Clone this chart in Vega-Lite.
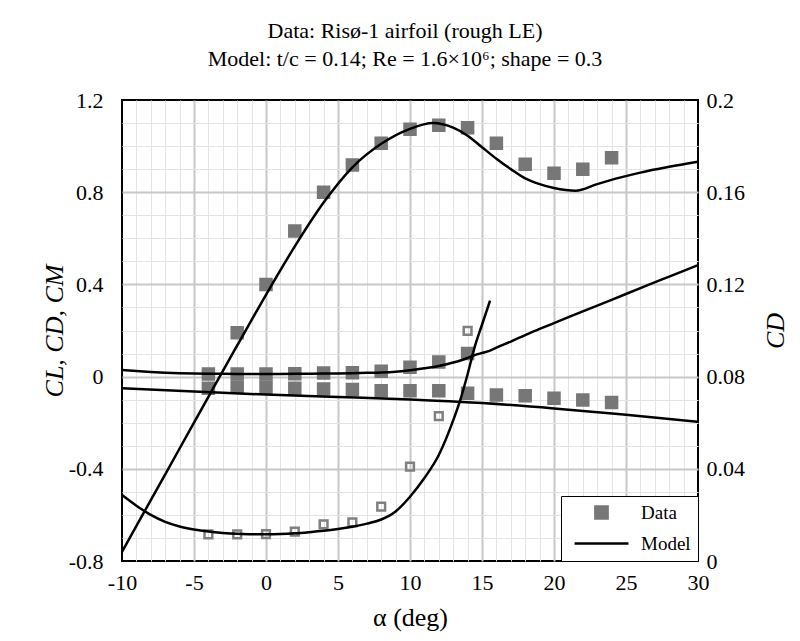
{
  "$schema": "https://vega.github.io/schema/vega-lite/v6.json",
  "autosize": {"type": "none"},
  "width": 576,
  "height": 461,
  "padding": {"left": 122, "top": 100, "right": 102, "bottom": 80},
  "background": "white",
  "title": {
    "text": "Data: Risø-1 airfoil (rough LE)",
    "subtitle": "Model: t/c = 0.14; Re = 1.6×10⁶; shape = 0.3",
    "font": "Liberation Serif", "fontSize": 22, "fontWeight": "normal", "color": "black",
    "subtitleFont": "Liberation Serif", "subtitleFontSize": 22, "subtitleColor": "black", "subtitlePadding": 6,
    "offset": 18, "anchor": "middle", "frame": "group", "dx": -5
  },
  "datasets": {
    "model": [
      {"a": -10, "c": "CL", "v": -0.76}, {"a": -8, "c": "CL", "v": -0.536}, {"a": -6, "c": "CL", "v": -0.312},
      {"a": -4, "c": "CL", "v": -0.088}, {"a": -2, "c": "CL", "v": 0.135}, {"a": 0, "c": "CL", "v": 0.355},
      {"a": 2, "c": "CL", "v": 0.565}, {"a": 4, "c": "CL", "v": 0.755}, {"a": 6, "c": "CL", "v": 0.908},
      {"a": 8, "c": "CL", "v": 1.01}, {"a": 10, "c": "CL", "v": 1.075}, {"a": 11.6, "c": "CL", "v": 1.1},
      {"a": 13, "c": "CL", "v": 1.08}, {"a": 14, "c": "CL", "v": 1.045}, {"a": 15, "c": "CL", "v": 0.995},
      {"a": 16, "c": "CL", "v": 0.945}, {"a": 17, "c": "CL", "v": 0.9}, {"a": 18, "c": "CL", "v": 0.86},
      {"a": 19, "c": "CL", "v": 0.835}, {"a": 20, "c": "CL", "v": 0.818}, {"a": 21.5, "c": "CL", "v": 0.806},
      {"a": 23, "c": "CL", "v": 0.835}, {"a": 24.5, "c": "CL", "v": 0.862}, {"a": 26, "c": "CL", "v": 0.885},
      {"a": 28, "c": "CL", "v": 0.91}, {"a": 30, "c": "CL", "v": 0.932},
      {"a": -10, "c": "CD", "v": 0.0286}, {"a": -9, "c": "CD", "v": 0.024}, {"a": -8, "c": "CD", "v": 0.02},
      {"a": -7, "c": "CD", "v": 0.017}, {"a": -6, "c": "CD", "v": 0.015}, {"a": -5, "c": "CD", "v": 0.0137},
      {"a": -4, "c": "CD", "v": 0.0128}, {"a": -3, "c": "CD", "v": 0.0122}, {"a": -2, "c": "CD", "v": 0.0118},
      {"a": -1, "c": "CD", "v": 0.0116}, {"a": 0, "c": "CD", "v": 0.0116}, {"a": 1, "c": "CD", "v": 0.0117},
      {"a": 2, "c": "CD", "v": 0.012}, {"a": 3, "c": "CD", "v": 0.0125}, {"a": 4, "c": "CD", "v": 0.0131},
      {"a": 5, "c": "CD", "v": 0.0139}, {"a": 6, "c": "CD", "v": 0.0149}, {"a": 7, "c": "CD", "v": 0.0162},
      {"a": 8, "c": "CD", "v": 0.018}, {"a": 9, "c": "CD", "v": 0.0215}, {"a": 10, "c": "CD", "v": 0.0279},
      {"a": 11, "c": "CD", "v": 0.036}, {"a": 12, "c": "CD", "v": 0.046}, {"a": 13, "c": "CD", "v": 0.061},
      {"a": 13.5, "c": "CD", "v": 0.07}, {"a": 14, "c": "CD", "v": 0.081}, {"a": 14.5, "c": "CD", "v": 0.093},
      {"a": 15, "c": "CD", "v": 0.1025}, {"a": 15.56, "c": "CD", "v": 0.113}, {"a": 16, "c": "CD", "v": 0.126},
      {"a": 17, "c": "CD", "v": 0.152}, {"a": 18, "c": "CD", "v": 0.18}, {"a": 19, "c": "CD", "v": 0.207},
      {"a": 20, "c": "CD", "v": 0.232}, {"a": 22, "c": "CD", "v": 0.283}, {"a": 24, "c": "CD", "v": 0.333},
      {"a": 26, "c": "CD", "v": 0.384}, {"a": 28, "c": "CD", "v": 0.434}, {"a": 30, "c": "CD", "v": 0.484},
      {"a": -10, "c": "CM", "v": -0.051}, {"a": -5, "c": "CM", "v": -0.065}, {"a": 0, "c": "CM", "v": -0.078},
      {"a": 5, "c": "CM", "v": -0.088}, {"a": 10, "c": "CM", "v": -0.099}, {"a": 15, "c": "CM", "v": -0.115},
      {"a": 20, "c": "CM", "v": -0.138}, {"a": 25, "c": "CM", "v": -0.166}, {"a": 30, "c": "CM", "v": -0.196}
    ],
    "exp": [
      {"a": -2, "c": "CL", "v": 0.19}, {"a": 0, "c": "CL", "v": 0.4}, {"a": 2, "c": "CL", "v": 0.632},
      {"a": 4, "c": "CL", "v": 0.8}, {"a": 6, "c": "CL", "v": 0.918}, {"a": 8, "c": "CL", "v": 1.012},
      {"a": 10, "c": "CL", "v": 1.073}, {"a": 12, "c": "CL", "v": 1.09}, {"a": 14, "c": "CL", "v": 1.08},
      {"a": 16, "c": "CL", "v": 1.012}, {"a": 18, "c": "CL", "v": 0.921}, {"a": 20, "c": "CL", "v": 0.882},
      {"a": 22, "c": "CL", "v": 0.9}, {"a": 24, "c": "CL", "v": 0.95},
      {"a": -4, "c": "CD", "v": 0.0116}, {"a": -2, "c": "CD", "v": 0.0116}, {"a": 0, "c": "CD", "v": 0.0117},
      {"a": 2, "c": "CD", "v": 0.0127}, {"a": 4, "c": "CD", "v": 0.0159}, {"a": 6, "c": "CD", "v": 0.0168},
      {"a": 8, "c": "CD", "v": 0.0236}, {"a": 10, "c": "CD", "v": 0.0409}, {"a": 12, "c": "CD", "v": 0.0629},
      {"a": 14, "c": "CD", "v": 0.0998},
      {"a": -4, "c": "CM", "v": -0.051}, {"a": -2, "c": "CM", "v": -0.046}, {"a": 0, "c": "CM", "v": -0.046},
      {"a": 2, "c": "CM", "v": -0.05}, {"a": 4, "c": "CM", "v": -0.054}, {"a": 6, "c": "CM", "v": -0.056},
      {"a": 8, "c": "CM", "v": -0.061}, {"a": 10, "c": "CM", "v": -0.061}, {"a": 12, "c": "CM", "v": -0.061},
      {"a": 14, "c": "CM", "v": -0.072}, {"a": 16, "c": "CM", "v": -0.08}, {"a": 18, "c": "CM", "v": -0.083},
      {"a": 20, "c": "CM", "v": -0.094}, {"a": 22, "c": "CM", "v": -0.101}, {"a": 24, "c": "CM", "v": -0.112}
    ]
  },
  "encoding": {
    "x": {
      "field": "a", "type": "quantitative",
      "scale": {"domain": [-10, 30], "nice": false, "zero": false},
      "axis": {
        "values": [-10,-9,-8,-7,-6,-5,-4,-3,-2,-1,0,1,2,3,4,5,6,7,8,9,10,11,12,13,14,15,16,17,18,19,20,21,22,23,24,25,26,27,28,29,30],
        "grid": true,
        "gridColor": {"condition": {"test": "datum.value % 5 === 0", "value": "#c8c8c8"}, "value": "#e3e3e3"},
        "gridWidth": {"condition": {"test": "datum.value % 5 === 0", "value": 2}, "value": 1},
        "gridOpacity": {"condition": {"test": "datum.value === -10 || datum.value === 30", "value": 0}, "value": 1},
        "labelExpr": "datum.value % 5 === 0 ? '' + datum.value : ''",
        "labelOverlap": false, "labelBound": false, "labelFlush": false,
        "labelPadding": 11, "title": "α (deg)", "titlePadding": 11
      }
    }
  },
  "layer": [
    {
      "encoding": {
        "y": {
          "field": "v", "type": "quantitative",
          "scale": {"domain": [-0.8, 1.2], "nice": false, "zero": false},
          "axis": {
            "orient": "left",
            "values": [-0.8,-0.7,-0.6,-0.5,-0.4,-0.3,-0.2,-0.1,0,0.1,0.2,0.3,0.4,0.5,0.6,0.7,0.8,0.9,1.0,1.1,1.2],
            "grid": true,
            "gridColor": {"condition": {"test": "abs(round(datum.value*10)) % 4 === 0", "value": "#c8c8c8"}, "value": "#e3e3e3"},
            "gridWidth": {"condition": {"test": "abs(round(datum.value*10)) % 4 === 0", "value": 2}, "value": 1},
            "gridOpacity": {"condition": {"test": "abs(datum.value + 0.8) < 0.001 || abs(datum.value - 1.2) < 0.001", "value": 0}, "value": 1},
            "labelExpr": "abs(round(datum.value*10)) % 4 === 0 ? '' + round(datum.value*10)/10 : ''",
            "labelOverlap": false, "labelBound": false, "labelFlush": false,
            "labelPadding": 19, "title": "CL, CD, CM", "titleFontStyle": "italic", "titlePadding": 1
          }
        }
      },
      "layer": [
        {
          "data": {"name": "exp"},
          "mark": {"type": "point", "filled": false, "fill": "#777777", "fillOpacity": 1, "size": 121, "strokeWidth": 2.5, "opacity": 1},
          "encoding": {
            "shape": {
              "datum": "Data",
              "scale": {"domain": ["Data", "Model"], "range": ["square", "M-4.4,0L4.4,0"]},
              "legend": {
                "title": null, "orient": "bottom-right", "offset": 0, "padding": 7,
                "fillColor": "white", "strokeColor": "black",
                "labelFont": "Liberation Serif", "labelFontSize": 19, "labelColor": "black",
                "symbolSize": 150, "symbolOffset": 24, "labelOffset": 30, "rowPadding": 10,
                "symbolOpacity": 1, "symbolFillColor": "#777777", "symbolStrokeWidth": 2.5,
                "encode": {"legend": {"strokeWidth": {"value": 2}}}
              }
            },
            "color": {
              "datum": "Data",
              "scale": {"domain": ["Data", "Model"], "range": ["#777777", "black"]},
              "legend": {
                "title": null, "orient": "bottom-right", "offset": 0, "padding": 7,
                "fillColor": "white", "strokeColor": "black",
                "labelFont": "Liberation Serif", "labelFontSize": 19, "labelColor": "black",
                "symbolSize": 150, "symbolOffset": 24, "labelOffset": 30, "rowPadding": 10,
                "symbolOpacity": 1, "symbolFillColor": "#777777", "symbolStrokeWidth": 2.5,
                "encode": {"legend": {"strokeWidth": {"value": 2}}}
              }
            }
          }
        },
        {
          "data": {"name": "model"},
          "mark": {"type": "line", "color": "black", "strokeWidth": 2.5, "interpolate": "monotone"},
          "encoding": {"detail": {"field": "c"}}
        }
      ]
    },
    {
      "encoding": {
        "y": {
          "field": "v", "type": "quantitative",
          "scale": {"domain": [0, 0.2], "nice": false, "zero": false},
          "axis": {
            "orient": "right",
            "values": [0, 0.04, 0.08, 0.12, 0.16, 0.2],
            "grid": false,
            "labelExpr": "'' + round(datum.value*100)/100",
            "labelOverlap": false, "labelBound": false, "labelFlush": false,
            "labelPadding": 8, "title": "CD", "titleFontStyle": "italic", "titleAngle": 270, "titlePadding": 44
          }
        }
      },
      "layer": [
        {
          "data": {"name": "exp"},
          "transform": [{"filter": "datum.c === 'CD'"}],
          "mark": {"type": "point", "shape": "square", "filled": false, "color": "#808080", "size": 60, "strokeWidth": 2.5, "opacity": 1}
        },
        {
          "data": {"name": "model"},
          "transform": [{"filter": "datum.c === 'CD' && datum.a <= 15.6"}],
          "mark": {"type": "line", "color": "black", "strokeWidth": 2.5, "interpolate": "monotone"}
        }
      ]
    }
  ],
  "resolve": {"scale": {"y": "independent"}},
  "config": {
    "view": {"stroke": "black", "strokeWidth": 2},
    "font": "Liberation Serif",
    "axis": {
      "labelFont": "Liberation Serif", "titleFont": "Liberation Serif",
      "labelFontSize": 22, "titleFontSize": 26, "titleFontWeight": "normal",
      "labelColor": "black", "titleColor": "black", "ticks": false, "domain": false
    }
  }
}
